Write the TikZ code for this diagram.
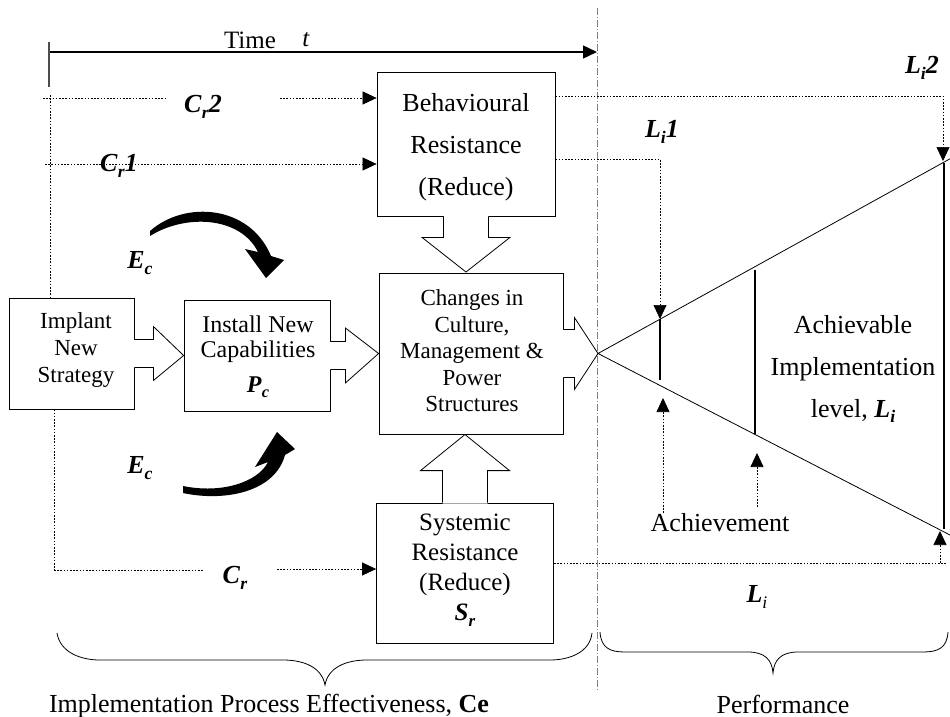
\documentclass[tikz,border=0pt]{standalone}
\usepackage{fontspec}
\usepackage{graphicx}
\setmainfont{Liberation Serif}
\usetikzlibrary{arrows.meta,calc}
\newcommand{\bi}[1]{\textbf{\textit{#1}}}
\newcommand{\sbx}[1]{\raisebox{-0.22em}{\scalebox{0.68}{#1}}}
\begin{document}
\begin{tikzpicture}[x=1pt,y=-1pt,
  box/.style={draw, line width=0.8pt, inner sep=0pt},
  blk/.style={draw, line width=0.8pt, line join=miter},
  txt/.style={inner sep=0pt, align=center},
  dots/.style={line width=0.7pt, dash pattern=on 1.6pt off 1.6pt},
  tipa/.style={-{Triangle[length=14pt,width=13pt]}},
  thickv/.style={line width=2.6pt},
  dashdot/.style={line width=0.9pt, gray, dash pattern=on 7pt off 2pt on 1pt off 2pt},
  f26/.style={font=\fontsize{26}{42}\selectfont},
  lab/.style={inner sep=0pt, font=\fontsize{26}{30}\selectfont}
]
\useasboundingbox (0,0) rectangle (950,717);

% boxes
\node[box, minimum width=125pt, minimum height=111pt] (implant) at (71.5,353.5) {};
\node[box, minimum width=146pt, minimum height=111pt] (install) at (257,355.5) {};
\node[box, minimum width=184pt, minimum height=161pt] (changes) at (471,353.5) {};
\node[box, minimum width=178pt, minimum height=144pt] (behav) at (466,144) {};
\node[box, minimum width=177pt, minimum height=140pt] (system) at (465,573) {};

% box texts
\node[txt, font=\fontsize{23}{27}\selectfont] (implantT) at (76,350) {Implant\\New\\Strategy};
\node[txt, font=\fontsize{24}{25}\selectfont] (installT) at (258,357) {Install New\\Capabilities\\[10pt]\bi{P}\sbx{\bi{c}}};
\node[txt, font=\fontsize{23}{26.5}\selectfont] (changesT) at (472,351) {Changes in\\Culture,\\Management \&\\Power\\Structures};
\node[txt, f26] (behavT) at (466,147) {Behavioural\\Resistance\\(Reduce)};
\node[txt, font=\fontsize{25}{30}\selectfont] (systemT) at (465,570) {Systemic\\Resistance\\(Reduce)\\\bi{S}\sbx{\bi{r}}};

% block arrows
\begin{scope}[shift={(implant.east)}]
  \fill[white] (-1,-14) -- (19,-14) -- (19,-27) -- (install.west) -- (19,27) -- (19,14) -- (-1,14) -- cycle;
  \draw[blk] (0,-14) -- (19,-14) -- (19,-27) -- (install.west) -- (19,27) -- (19,14) -- (0,14);
\end{scope}
\begin{scope}[shift={(install.east)}]
  \fill[white] (-1,-14) -- (15,-14) -- (15,-27.5) -- (changes.west) -- (15,27.5) -- (15,14) -- (-1,14) -- cycle;
  \draw[blk] (0,-14) -- (15,-14) -- (15,-27.5) -- (changes.west) -- (15,27.5) -- (15,14) -- (0,14);
\end{scope}
\coordinate (apex) at (598,353.5);
\begin{scope}[shift={(changes.east)}]
  \fill[white] (-1,-24) -- (11,-24) -- (11,-36) -- (apex) -- (11,36) -- (11,24) -- (-1,24) -- cycle;
  \draw[blk] (0,-24) -- (11,-24) -- (11,-36) -- (apex) -- (11,36) -- (11,24) -- (0,24);
\end{scope}
\coordinate (downtip) at (466,272);
\begin{scope}[shift={(behav.south)}]
  \fill[white] (-22.5,-1) -- (-22.5,21) -- (-44,21) -- (downtip) -- (44,21) -- (22.5,21) -- (22.5,-1) -- cycle;
  \draw[blk] (-22.5,0) -- (-22.5,21) -- (-44,21) -- (downtip) -- (44,21) -- (22.5,21) -- (22.5,0);
\end{scope}
\coordinate (uptip) at (465,434.5);
\begin{scope}[shift={(system.north)}]
  \fill[white] (-22.5,1) -- (-22.5,-32) -- (-44.5,-32) -- (uptip) -- (44.5,-32) -- (22.5,-32) -- (22.5,1) -- cycle;
  \draw[blk] (-22.5,0) -- (-22.5,-32) -- (-44.5,-32) -- (uptip) -- (44.5,-32) -- (22.5,-32) -- (22.5,0);
\end{scope}

% time axis
\coordinate (t0) at (49,52);
\coordinate (t1) at (597,52);
\draw[line width=1.4pt, tipa] (t0) -- (t1);
\draw[line width=1.2pt, black!70] (49,42) -- (49,87);
\node[lab, font=\fontsize{25}{30}\selectfont] (timeT) at (250,40) {Time};
\node[lab, font=\fontsize{25}{30}\selectfont] (tT) at (306,40) {\textit{t}};

% dash-dot divider
\draw[dashdot] (597,8) -- (597,690);

% left dotted vertical
\coordinate (lv1) at (50,95);
\coordinate (lv2) at (54,570);
\draw[dots] (lv1) -- (lv1 |- implant.north);
\draw[dots] (lv2 |- implant.south) -- (lv2);

% C_r2
\coordinate (c2a) at (43,98);
\coordinate (c2b) at (280,98);
\draw[dots] (c2a) -- (165,98);
\draw[dots, tipa] (c2b) -- (c2b -| behav.west);
\node[lab] (cr2) at (203,107) {\bi{C}\sbx{\bi{r}}\bi{2}};
% C_r1
\coordinate (c1a) at (45,164);
\draw[dots, tipa] (c1a) -- (c1a -| behav.west);
\node[lab] (cr1) at (119,166) {\bi{C}\sbx{\bi{r}}\bi{1}};
% C_r
\coordinate (ca) at (54,570);
\coordinate (cb) at (277,569);
\draw[dots] (ca) -- (204,570);
\draw[dots, tipa] (cb) -- (cb -| system.west);
\node[lab] (cr) at (235,578) {\bi{C}\sbx{\bi{r}}};

% E_c labels and curved arrows
\node[lab] (ec1) at (140,263) {\bi{E}\sbx{\bi{c}}};
\node[lab] (ec2) at (140,468) {\bi{E}\sbx{\bi{c}}};
\fill (150,231) .. controls (185,200) and (250,205) .. (271,256) -- (284,260) -- (266,278) -- (245,249) -- (258,252) .. controls (240,216) and (185,214) .. (150,236) -- cycle;
\fill (183,486) .. controls (222,494) and (258,482) .. (268,462) -- (255,467) -- (277,432) -- (295,449) -- (285,455) .. controls (275,492) and (225,502) .. (183,493) -- cycle;

% triangle
\draw[line width=0.8pt] (950,158.8) -- (apex) -- (950,535);
\coordinate (s1t) at (660,319);
\coordinate (s1b) at (660,380);
\coordinate (s2t) at (755,270);
\coordinate (s2b) at (755,434);
\coordinate (s3t) at (944,163);
\coordinate (s3b) at (944,529);
\draw[thickv] (s1t) -- (s1b);
\draw[thickv] (s2t) -- (s2b);
\draw[thickv] (s3t) -- (s3b);
\node[txt, f26] (achT) at (853,369) {Achievable\\Implementation\\level, \bi{L}\sbx{\bi{i}}};

% L_i1, L_i2 connectors
\coordinate (l1) at (555,159);
\coordinate (l2) at (555,96);
\coordinate (l2t) at (943,161);
\draw[dots, tipa] (behav.east |- l1) -| (s1t);
\draw[dots, tipa] (behav.east |- l2) -| (l2t);
\node[lab] (li1) at (662,132) {\bi{L}\sbx{\bi{i}}\bi{1}};
\node[lab] (li2) at (922,68) {\bi{L}\sbx{\bi{i}}\bi{2}};

% achievement
\node[lab] (achv) at (720,523) {Achievement};
\draw[dots, tipa] (663,513) -- (663,398);
\draw[dots, tipa] (757,507) -- (757,453);

% bottom L_i dotted
\coordinate (hl) at (553,563);
\draw[dots] (system.east |- hl) -- (947,563);
\draw[dots, tipa] (940,563) -- (940,531);
\node[lab] (li) at (757,597) {\bi{L}\sbx{\textit{i}}};

% braces
\draw[line width=0.8pt] (57,633) .. controls (60,652) and (80,660) .. (100,660) -- (283,660) .. controls (305,660) and (322,668) .. (325,685) .. controls (328,668) and (345,660) .. (367,660) -- (550,660) .. controls (570,660) and (590,652) .. (592,633);
\draw[line width=0.8pt] (600,632) .. controls (601,648) and (610,652) .. (625,652) -- (748,652) .. controls (765,652) and (772,660) .. (773,673) .. controls (774,660) and (781,652) .. (798,652) -- (923,652) .. controls (938,652) and (947,648) .. (948,632);
\node[lab] (ipe) at (269,706) {Implementation Process Effectiveness, \textbf{Ce}};
\node[lab] (perf) at (783,704) {Performance};
\end{tikzpicture}
\end{document}
